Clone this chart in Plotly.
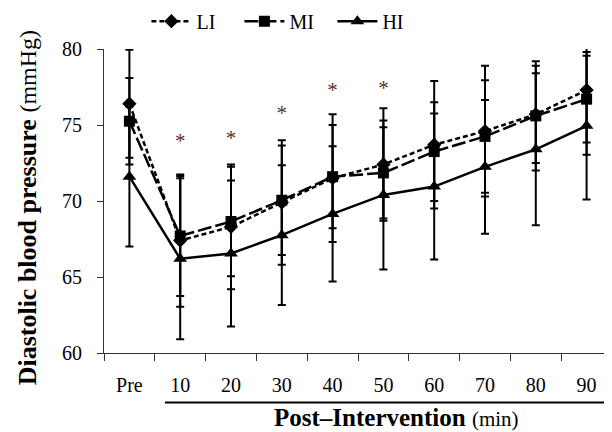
import plotly.graph_objects as go

categories = ["Pre", "10", "20", "30", "40", "50", "60", "70", "80", "90"]

li_mean = [76.4, 67.4, 68.3, 69.9, 71.5, 72.4, 73.7, 74.6, 75.7, 77.3]
li_sd = [3.55, 4.35, 4.1, 4.1, 4.2, 3.7, 4.2, 4.3, 3.2, 4.25]

mi_mean = [75.25, 67.7, 68.65, 70.05, 71.6, 71.85, 73.25, 74.25, 75.6, 76.7]
mi_sd = [2.85, 3.95, 3.6, 3.6, 3.4, 3.0, 3.25, 3.7, 3.6, 2.85]

hi_mean = [71.6, 66.2, 66.55, 67.75, 69.15, 70.4, 70.95, 72.25, 73.4, 74.95]
hi_sd = [4.6, 5.3, 4.8, 4.6, 4.45, 4.9, 4.8, 4.4, 5.0, 4.85]

sig_categories = ["10", "20", "30", "40", "50"]
sig_y = [73.8, 74.0, 75.65, 77.2, 77.35]

FONT = "Liberation Serif"
BLACK = "#000000"

fig = go.Figure()

def add_series(name, mean, sd, symbol, size, dash):
    fig.add_trace(go.Scatter(
        x=categories, y=mean, name=name,
        mode="lines+markers",
        line=dict(color=BLACK, width=2.5, dash=dash),
        marker=dict(symbol=symbol, size=size, color=BLACK),
        error_y=dict(type="data", array=sd, visible=True,
                     color=BLACK, thickness=2, width=4),
    ))

add_series("LI", li_mean, li_sd, "diamond", 11, "5px,3px")
add_series("MI", mi_mean, mi_sd, "square", 11, "14px,4px")
add_series("HI", hi_mean, hi_sd, "triangle-up", 12, "solid")

fig.add_trace(go.Scatter(
    x=sig_categories, y=sig_y, mode="text", text=["*"] * len(sig_y),
    textfont=dict(family=FONT, size=21, color="#5a2e2e"),
    showlegend=False, hoverinfo="skip",
))

# the page body adds an 8px margin, so the figure is drawn 8px smaller
fig.update_layout(
    width=604, height=424,
    margin=dict(l=96, r=0, t=41, b=79, autoexpand=False),
    paper_bgcolor="white", plot_bgcolor="white",
    font=dict(family=FONT, color=BLACK),
    showlegend=True,
    legend=dict(orientation="h", x=0.0835, xanchor="left",
                yref="container", y=0.969, yanchor="middle",
                font=dict(family=FONT, size=20, color=BLACK),
                bgcolor="rgba(0,0,0,0)", entrywidth=38, entrywidthmode="pixels",
                itemwidth=40),
    xaxis=dict(type="category", range=[-0.5, 9.5], showgrid=False,
               showline=True, linecolor="#333333", linewidth=1,
               ticks="outside", ticklen=7, tickcolor="#333333", tickson="boundaries",
               tickfont=dict(family=FONT, size=20, color=BLACK),
               ticklabelstandoff=14, zeroline=False, automargin=False),
    yaxis=dict(range=[60, 80], dtick=5, tick0=60, showgrid=False,
               showline=True, linecolor="#333333", linewidth=1,
               ticks="outside", ticklen=6, tickcolor="#333333",
               tickfont=dict(family=FONT, size=20, color=BLACK),
               ticklabelstandoff=11, zeroline=False, automargin=False),
    shapes=[dict(type="line", xref="paper", yref="paper",
                 x0=0.12, x1=0.996, y0=-0.163, y1=-0.163,
                 line=dict(color=BLACK, width=2))],
    annotations=[
        dict(text="<b>Post–Intervention</b> <span style='font-size:21px'>(min)</span>",
             xref="paper", yref="paper", x=0.575, y=-0.211,
             xanchor="center", yanchor="middle", showarrow=False,
             font=dict(family=FONT, size=25, color=BLACK)),
        dict(text="<b>Diastolic blood pressure</b> <span style='font-size:24px'>(mmHg)</span>",
             xref="paper", yref="paper", x=-0.1516, y=0.479, textangle=-90,
             xanchor="center", yanchor="middle", showarrow=False,
             font=dict(family=FONT, size=26, color=BLACK)),
    ],
)

fig.write_html("out.html")
